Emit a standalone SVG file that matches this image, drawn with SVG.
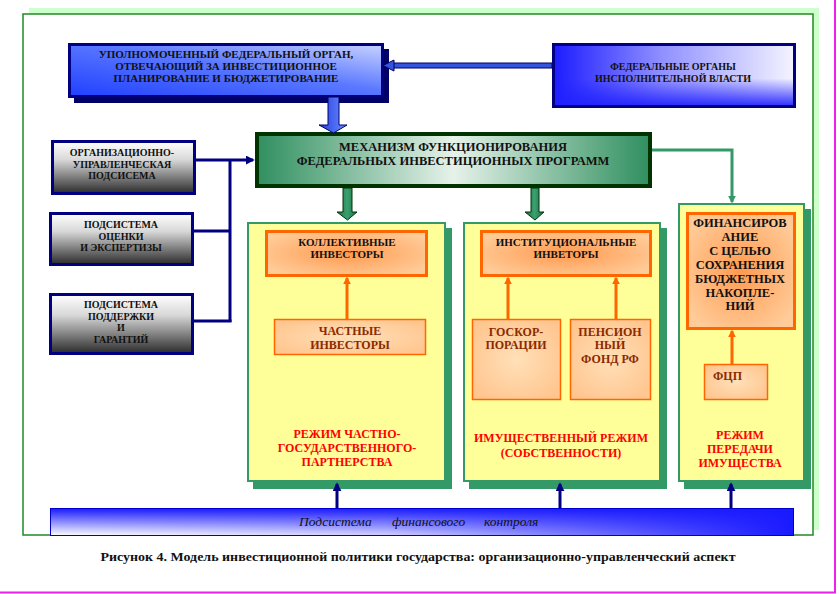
<svg xmlns="http://www.w3.org/2000/svg" width="839" height="594" viewBox="0 0 839 594">
<style>
.t{font-family:"Liberation Serif","Tinos","Times New Roman","DejaVu Serif",serif;font-weight:bold;text-anchor:middle}
.it{font-family:"Liberation Serif","Tinos","Times New Roman","DejaVu Serif",serif;font-style:italic}
.k{fill:#111}
.b{fill:#8a2a00}
.r{fill:#ff0000}
.nv{stroke:#000080;stroke-width:3;fill:none}
.or{stroke:#ff6600;stroke-width:3;fill:none}
.col{fill:#ffff99;stroke:#339966;stroke-width:2}
.colsh{fill:#339966}
.ob1{stroke:#ff6600;stroke-width:3}
.ob2{stroke:#ff6600;stroke-width:1.5}
.gray{stroke:#000080;stroke-width:3}
</style>
<defs>
<linearGradient id="gTop" x1="0" y1="1" x2="1" y2="0">
<stop offset="0" stop-color="#2040ff"/><stop offset="0.55" stop-color="#5a78ff"/><stop offset="1" stop-color="#c8d2ff"/>
</linearGradient>
<linearGradient id="gRight" x1="0" y1="0" x2="1" y2="0">
<stop offset="0" stop-color="#1c1cff"/><stop offset="0.45" stop-color="#9090ff"/><stop offset="1" stop-color="#f4f4ff"/>
</linearGradient>
<linearGradient id="gRightV" x1="0" y1="0" x2="0" y2="1">
<stop offset="0" stop-color="#2020ff" stop-opacity="0"/><stop offset="0.55" stop-color="#2020ff" stop-opacity="0"/><stop offset="1" stop-color="#2020ff" stop-opacity="0.9"/>
</linearGradient>
<linearGradient id="gMech" x1="0" y1="0" x2="1" y2="0">
<stop offset="0" stop-color="#2f8f5f"/><stop offset="0.5" stop-color="#e6f2ea"/><stop offset="1" stop-color="#2f8f5f"/>
</linearGradient>
<linearGradient id="gGray" x1="0" y1="0" x2="0" y2="1">
<stop offset="0" stop-color="#ffffff"/><stop offset="0.35" stop-color="#d8d8d8"/><stop offset="1" stop-color="#2a2a2a"/>
</linearGradient>
<linearGradient id="gBar" x1="0" y1="0" x2="0" y2="1">
<stop offset="0" stop-color="#1a1aff"/><stop offset="1" stop-color="#ffffff"/>
</linearGradient>
<linearGradient id="gBarH" x1="0" y1="0" x2="1" y2="0">
<stop offset="0" stop-color="#1a1aff" stop-opacity="0"/><stop offset="0.45" stop-color="#1a1aff" stop-opacity="0.2"/><stop offset="1" stop-color="#1a1aff" stop-opacity="1"/>
</linearGradient>
<linearGradient id="gBlueArr" x1="0" y1="0" x2="1" y2="0">
<stop offset="0" stop-color="#1f3fe0"/><stop offset="1" stop-color="#6f8cff"/>
</linearGradient>
<linearGradient id="gGreenArr" x1="0" y1="0" x2="1" y2="0">
<stop offset="0" stop-color="#1f6e45"/><stop offset="0.5" stop-color="#3aa070"/><stop offset="1" stop-color="#1f6e45"/>
</linearGradient>
<radialGradient id="gOr1" cx="0.5" cy="0.5" r="0.6">
<stop offset="0" stop-color="#ff9a50"/><stop offset="1" stop-color="#ffcc99"/>
</radialGradient>
<radialGradient id="gOr2" cx="0.5" cy="0.5" r="0.6">
<stop offset="0" stop-color="#ffe0b8"/><stop offset="1" stop-color="#ffc690"/>
</radialGradient>
<marker id="mNavy" viewBox="0 0 10 10" refX="8" refY="5" markerWidth="9" markerHeight="9" markerUnits="userSpaceOnUse" orient="auto">
<path d="M0,0 L10,5 L0,10 z" fill="#000080"/>
</marker>
<marker id="mOr" viewBox="0 0 10 10" refX="8" refY="5" markerWidth="8" markerHeight="9" markerUnits="userSpaceOnUse" orient="auto">
<path d="M0,0 L10,5 L0,10 z" fill="#ff6600"/>
</marker>
<marker id="mGreen" viewBox="0 0 10 10" refX="8" refY="5" markerWidth="8" markerHeight="9" markerUnits="userSpaceOnUse" orient="auto">
<path d="M0,0 L10,5 L0,10 z" fill="#339966"/>
</marker>
</defs>
<rect x="0" y="0" width="839" height="594" fill="#ffffff"/>
<g id="page">
<line x1="835" y1="0" x2="835" y2="593" stroke="#ee22ee" stroke-width="2"/>
<line x1="0" y1="592.5" x2="836" y2="592.5" stroke="#ee22ee" stroke-width="2"/>
<rect x="29" y="8" width="790" height="522" fill="#ccffcc"/>
<rect x="23" y="14" width="790" height="521" fill="#ffffff" stroke="#228b22" stroke-width="1.5"/>
</g>

<g id="node-upolnomochenny">
<rect x="74" y="49" width="315" height="54" fill="#000066"/>
<rect x="69.5" y="44.5" width="313" height="52" fill="url(#gTop)" stroke="#000080" stroke-width="3"/>
<text class="t k" font-size="11"><tspan x="226" y="58">УПОЛНОМОЧЕННЫЙ ФЕДЕРАЛЬНЫЙ ОРГАН,</tspan><tspan x="226" y="70">ОТВЕЧАЮЩИЙ ЗА ИНВЕСТИЦИОННОЕ</tspan><tspan x="226" y="82">ПЛАНИРОВАНИЕ И БЮДЖЕТИРОВАНИЕ</tspan></text>
</g>

<g id="node-federalnye-organy">
<rect x="553.5" y="44.5" width="241" height="62" fill="url(#gRight)" stroke="#000080" stroke-width="3"/>
<rect x="555" y="46" width="238" height="59" fill="url(#gRightV)"/>
<text class="t k" font-size="10"><tspan x="673" y="70">ФЕДЕРАЛЬНЫЕ ОРГАНЫ</tspan><tspan x="673" y="82">ИНСПОЛНИТЕЛЬНОЙ ВЛАСТИ</tspan></text>
</g>

<g id="node-mechanism">
<rect x="257" y="134" width="393" height="52" fill="url(#gMech)" stroke="#003300" stroke-width="4"/>
<text class="t k" font-size="12.5"><tspan x="453" y="151">МЕХАНИЗМ ФУНКЦИОНИРОВАНИЯ</tspan><tspan x="453" y="165">ФЕДЕРАЛЬНЫХ ИНВЕСТИЦИОННЫХ ПРОГРАММ</tspan></text>
</g>

<g id="node-org-upr">
<rect x="52.5" y="141.5" width="142" height="52" fill="url(#gGray)" class="gray"/>
<text class="t k" font-size="10"><tspan x="122" y="156">ОРГАНИЗАЦИОННО-</tspan><tspan x="122" y="168">УПРАВЛЕНЧЕСКАЯ</tspan><tspan x="122" y="179">ПОДСИСЕМА</tspan></text>
</g>

<g id="node-ocenka">
<rect x="50.5" y="213.5" width="142" height="51" fill="url(#gGray)" class="gray"/>
<text class="t k" font-size="10"><tspan x="121" y="228">ПОДСИСТЕМА</tspan><tspan x="121" y="240">ОЦЕНКИ</tspan><tspan x="121" y="251">И ЭКСПЕРТИЗЫ</tspan></text>
</g>

<g id="node-podderzhka">
<rect x="50.5" y="294.5" width="142" height="59" fill="url(#gGray)" class="gray"/>
<text class="t k" font-size="10"><tspan x="121" y="308">ПОДСИСТЕМА</tspan><tspan x="121" y="320">ПОДДЕРЖКИ</tspan><tspan x="121" y="331">И</tspan><tspan x="121" y="343">ГАРАНТИЙ</tspan></text>
</g>

<g id="node-col-chpp">
<rect x="253" y="228" width="199" height="261" class="colsh"/>
<rect x="248" y="223" width="197" height="258" class="col"/>
<text class="t r" font-size="12"><tspan x="347" y="438">РЕЖИМ ЧАСТНО-</tspan><tspan x="347" y="452">ГОСУДАРСТВЕННОГО-</tspan><tspan x="347" y="466">ПАРТНЕРСТВА</tspan></text>
</g>
<g id="node-kollektivnye">
<rect x="266.5" y="231.5" width="160" height="44" fill="url(#gOr1)" class="ob1"/>
<text class="t k" font-size="11"><tspan x="347" y="246">КОЛЛЕКТИВНЫЕ</tspan><tspan x="347" y="258">ИНВЕСТОРЫ</tspan></text>
</g>
<g id="node-chastnye">
<rect x="274.5" y="319.5" width="151" height="35" fill="url(#gOr2)" class="ob2"/>
<text class="t b" font-size="12"><tspan x="350" y="335">ЧАСТНЫЕ</tspan><tspan x="350" y="349">ИНВЕСТОРЫ</tspan></text>
</g>

<g id="node-col-imush">
<rect x="469" y="228" width="198" height="261" class="colsh"/>
<rect x="464" y="223" width="196" height="258" class="col"/>
<text class="t r" font-size="12"><tspan x="561" y="442">ИМУЩЕСТВЕННЫЙ РЕЖИМ</tspan><tspan x="561" y="457">(СОБСТВЕННОСТИ)</tspan></text>
</g>
<g id="node-institucionalnye">
<rect x="481.5" y="231.5" width="169" height="44" fill="url(#gOr1)" class="ob1"/>
<text class="t k" font-size="11"><tspan x="566" y="246">ИНСТИТУЦИОНАЛЬНЫЕ</tspan><tspan x="566" y="258">ИНВЕТОРЫ</tspan></text>
</g>
<g id="node-goskorp">
<rect x="472.5" y="319.5" width="88" height="80" fill="url(#gOr2)" class="ob2"/>
<text class="t b" font-size="12"><tspan x="516" y="336">ГОСКОР-</tspan><tspan x="516" y="349">ПОРАЦИИ</tspan></text>
</g>
<g id="node-pension">
<rect x="570.5" y="319.5" width="80" height="80" fill="url(#gOr2)" class="ob2"/>
<text class="t b" font-size="12"><tspan x="610" y="336">ПЕНСИОН</tspan><tspan x="610" y="349">НЫЙ</tspan><tspan x="610" y="363">ФОНД  РФ</tspan></text>
</g>

<g id="node-col-peredacha">
<rect x="684" y="209" width="127" height="280" class="colsh"/>
<rect x="679" y="204" width="125" height="277" class="col"/>
<text class="t r" font-size="12"><tspan x="740" y="439">РЕЖИМ</tspan><tspan x="740" y="453">ПЕРЕДАЧИ</tspan><tspan x="740" y="467">ИМУЩЕСТВА</tspan></text>
</g>
<g id="node-finansirovanie">
<rect x="687.5" y="213.5" width="107" height="115" fill="url(#gOr1)" class="ob1"/>
<text class="t k" font-size="12.5"><tspan x="740" y="227">ФИНАНСИРОВ</tspan><tspan x="740" y="241">АНИЕ</tspan><tspan x="740" y="255">С ЦЕЛЬЮ</tspan><tspan x="740" y="269">СОХРАНЕНИЯ</tspan><tspan x="740" y="283">БЮДЖЕТНЫХ</tspan><tspan x="740" y="297">НАКОПЛЕ-</tspan><tspan x="740" y="310">НИЙ</tspan></text>
</g>
<g id="node-fcp">
<rect x="704.5" y="364.5" width="63" height="35" fill="url(#gOr2)" class="ob2"/>
<text class="t b" font-size="12" style="text-anchor:start" x="713" y="380">ФЦП</text>
</g>

<g id="node-fin-control">
<rect x="50.5" y="508.5" width="743" height="27" fill="url(#gBar)" stroke="#0000cc" stroke-width="1"/>
<rect x="51" y="509" width="742" height="26" fill="url(#gBarH)"/>
<text class="it" font-size="13.5" fill="#111"><tspan x="299" y="526">Подсистема</tspan><tspan x="392" y="526">финансового</tspan><tspan x="484" y="526">контроля</tspan></text>
</g>

<g id="connectors">
<rect x="392" y="63" width="160" height="5" fill="#3355dd" stroke="#000066" stroke-width="1"/>
<polygon points="383,65.5 394,60 394,71" fill="#3355dd" stroke="#000066" stroke-width="1"/>
<polygon points="328,97 339,97 339,125 347,125 333.5,133 319,125 328,125" fill="url(#gBlueArr)" stroke="#000066" stroke-width="1"/>
<polygon points="343,188 352,188 352,212 357,212 347.5,220 337,212 343,212" fill="url(#gGreenArr)" stroke="#003300" stroke-width="1"/>
<polygon points="531,188 539,188 539,212 544,212 535,220 525,212 531,212" fill="url(#gGreenArr)" stroke="#003300" stroke-width="1"/>
<polyline points="652,150 732,150 732,202" fill="none" stroke="#339966" stroke-width="3" marker-end="url(#mGreen)"/>
<line x1="196" y1="160" x2="253" y2="160" class="nv" marker-end="url(#mNavy)"/>
<line x1="230" y1="160" x2="230" y2="322" class="nv"/>
<line x1="193" y1="231" x2="230" y2="231" class="nv"/>
<line x1="193" y1="321" x2="231.5" y2="321" class="nv"/>
<line x1="347" y1="319" x2="347" y2="278" class="or" marker-end="url(#mOr)"/>
<line x1="508" y1="319" x2="508" y2="278" class="or" marker-end="url(#mOr)"/>
<line x1="616" y1="319" x2="616" y2="278" class="or" marker-end="url(#mOr)"/>
<line x1="732" y1="364" x2="732" y2="331" class="or" marker-end="url(#mOr)"/>
<line x1="337" y1="508" x2="337" y2="484" class="nv" marker-end="url(#mNavy)"/>
<line x1="560" y1="508" x2="560" y2="484" class="nv" marker-end="url(#mNavy)"/>
<line x1="731" y1="508" x2="731" y2="484" class="nv" marker-end="url(#mNavy)"/>
</g>

<g id="caption">
<text class="t k" font-size="13" x="418" y="561" textLength="635" lengthAdjust="spacingAndGlyphs">Рисунок 4. Модель инвестиционной политики государства: организационно-управленческий аспект</text>
</g>
</svg>
